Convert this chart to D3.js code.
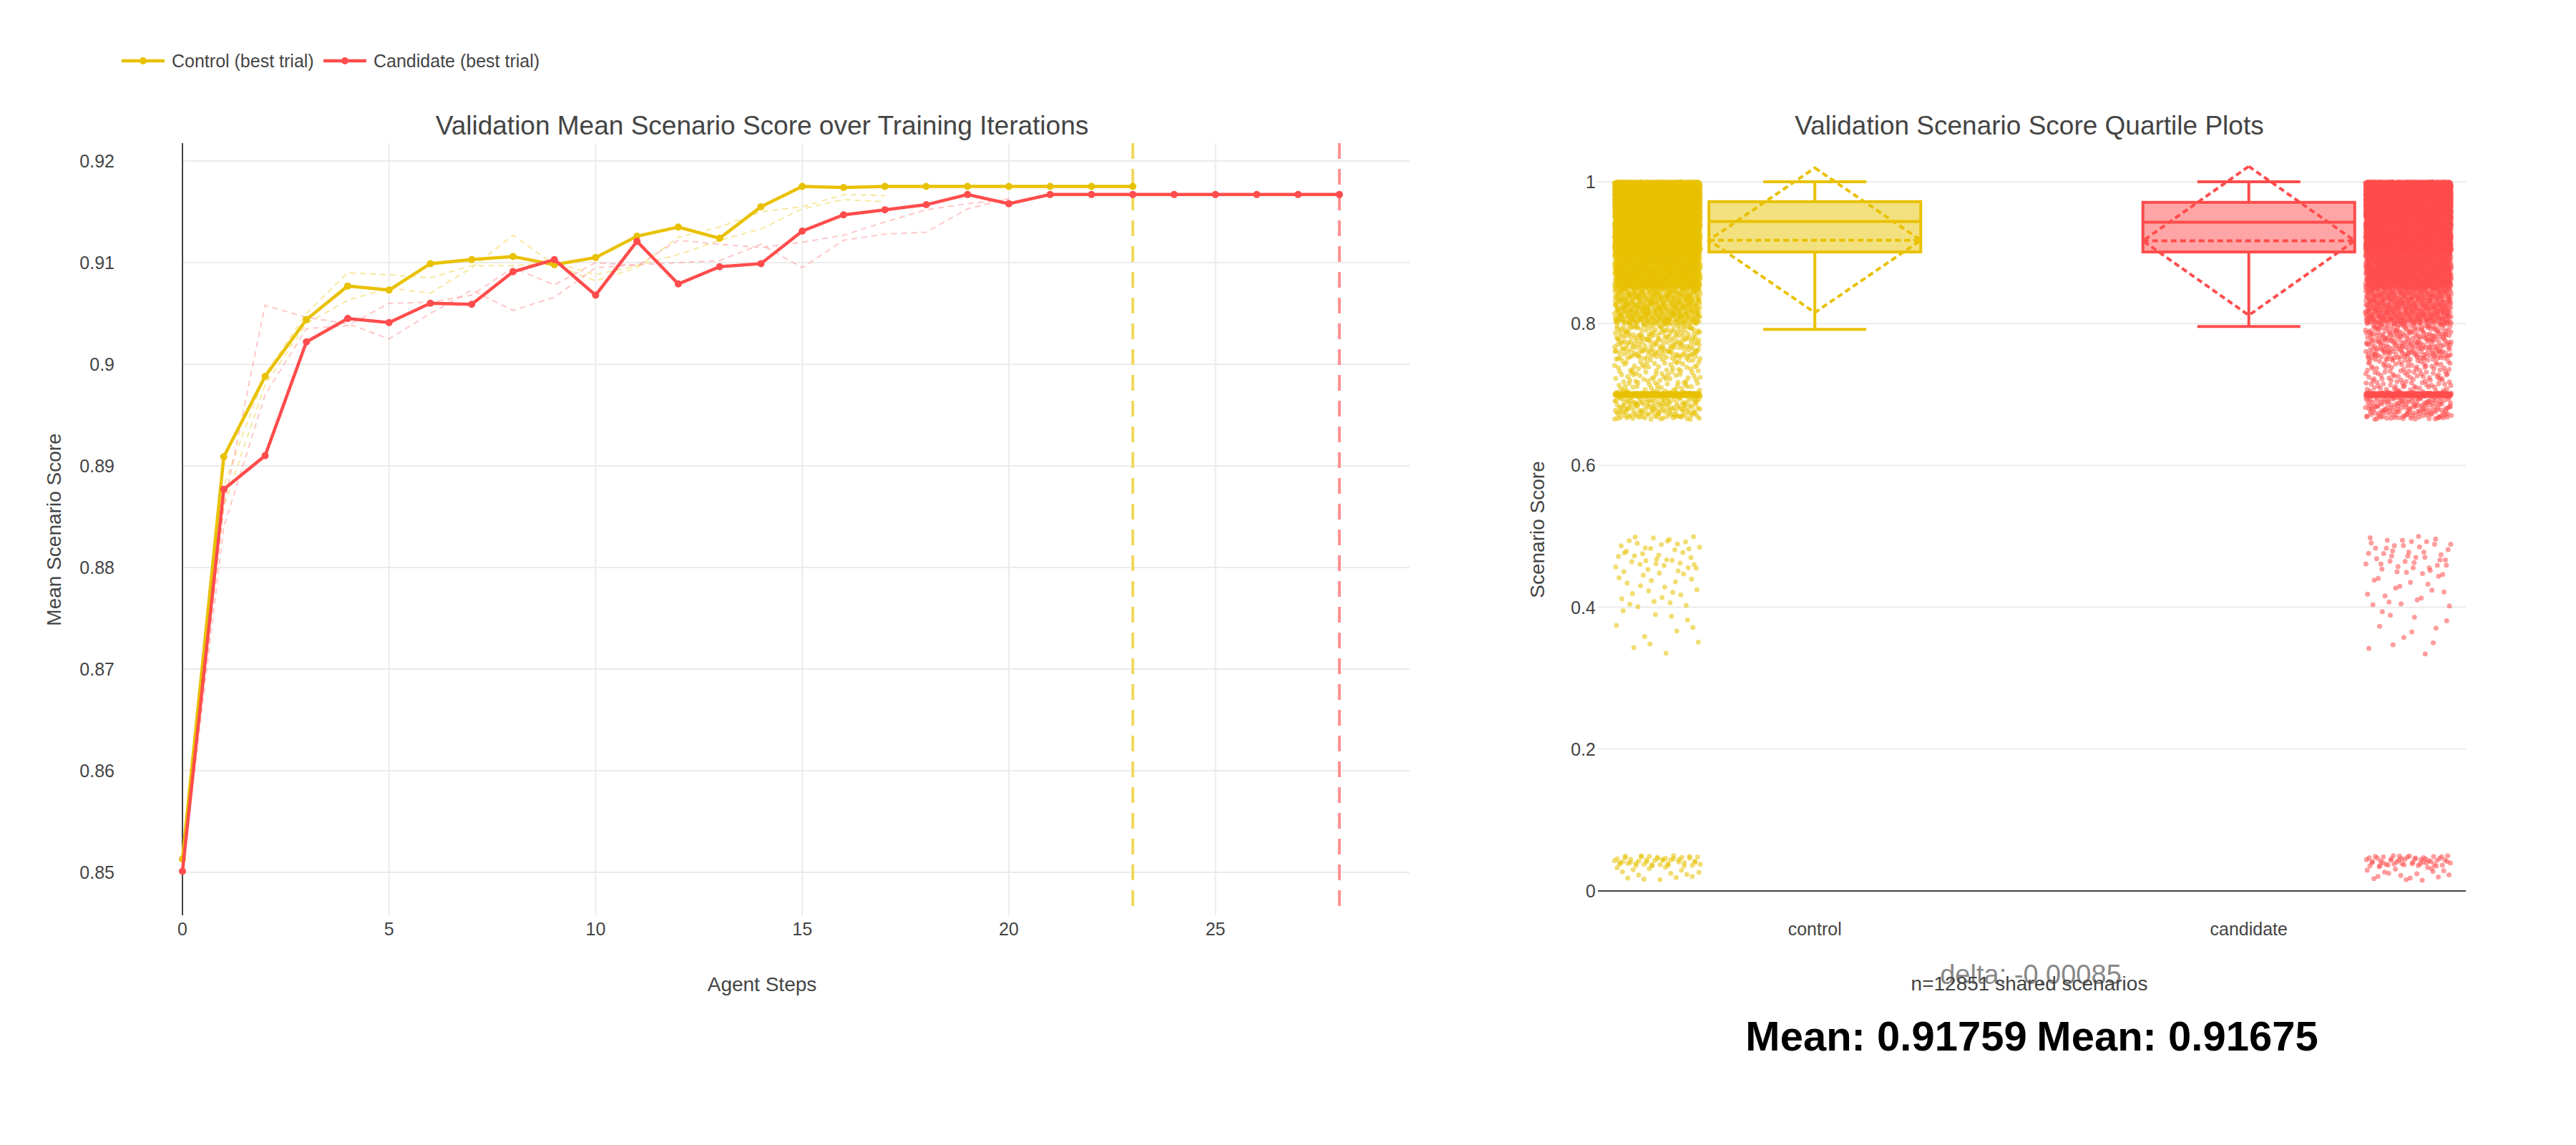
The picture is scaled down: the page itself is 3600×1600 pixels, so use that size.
<!DOCTYPE html>
<html><head><meta charset="utf-8">
<script src="https://cdn.jsdelivr.net/npm/d3@7"></script>
<style>body{margin:0;background:#fff}text{font-family:"Liberation Sans",Arial,sans-serif}</style>
</head><body><svg id="c" width="3600" height="1600"></svg>
<script>
// line chart data
const controlBest = [0.8513,0.8909,0.8988,0.9044,0.9077,0.9073,0.9099,0.9103,0.9106,0.9098,0.9105,0.9126,0.9135,0.9124,0.9155,0.9175,0.9174,0.9175,0.9175,0.9175,0.9175,0.9175,0.9175,0.9175];
const candidateBest = [0.8501,0.8877,0.8910,0.9022,0.9045,0.9041,0.9060,0.9059,0.9091,0.9103,0.9068,0.9121,0.9079,0.9096,0.9099,0.9131,0.9147,0.9152,0.9157,0.9167,0.9158,0.9167,0.9167,0.9167,0.9167,0.9167,0.9167,0.9167,0.9167];
const controlTrials = [
  [0.851,0.888,0.899,0.905,0.909,0.9088,0.9085,0.9097,0.9097,0.910,0.9088,0.9097,0.9108,0.9122,0.9133,0.9153,0.9162,0.916],
  [0.851,0.886,0.898,0.904,0.9063,0.9075,0.907,0.9095,0.9127,0.9098,0.9082,0.9095,0.9125,0.9135,0.915,0.9155,0.9167,0.9166]
];
const candidateTrials = [
  [0.850,0.886,0.9058,0.9046,0.9040,0.9025,0.905,0.9073,0.9053,0.9066,0.9095,0.9098,0.910,0.9102,0.9118,0.9095,0.9122,0.9128,0.9130,0.9153,0.9163],
  [0.850,0.884,0.897,0.9035,0.9038,0.906,0.9061,0.9068,0.9095,0.9078,0.910,0.9097,0.9122,0.9118,0.9115,0.912,0.9127,0.914,0.9152,0.9158,0.9162]
];
const stopSteps = [23, 28];
const yTicksLeft = [0.85,0.86,0.87,0.88,0.89,0.9,0.91,0.92];
const xTicksLeft = [0,5,10,15,20,25];

// box data
const groups = ["control","candidate"];
const boxStats = [
  {lo:0.792, q1:0.901, med:0.944, q3:0.972, hi:1.0, mean:0.91759, sd:0.102},
  {lo:0.796, q1:0.901, med:0.943, q3:0.971, hi:1.0, mean:0.91675, sd:0.105}
];
// score bins for the strip points (lo, hi, count control, count candidate)
const binLo = [0.95,0.90,0.85,0.80,0.75,0.70,0.698,0.665,0.33,0.40,0.45,0.015,0.035];
const binHi = [1.00,0.95,0.90,0.85,0.80,0.75,0.702,0.698,0.40,0.45,0.50,0.035,0.05];
const countsControl = [3000,2000,900,450,200,110,250,150,12,22,40,15,45];
const countsCandidate = [3000,2000,950,500,250,130,250,160,12,20,42,18,50];
const deltaText = "delta: -0.00085";
const nText = "n=12851 shared scenarios";

const colors = ["#e8c100","#ff4c4c"];
const lightColors = ["#f0d860","#ff9090"];
const svg = d3.select("#c");

// ---- left chart
const x = d3.scaleLinear().domain([0,29.7]).range([255,1970]);
const y = d3.scaleLinear().domain([0.85,0.92]).range([1219,225]);
const plotTop = 200, plotBottom = 1279;
const L = svg.append("g");
L.selectAll(".gy").data(yTicksLeft).enter().append("line")
  .attr("x1",255).attr("x2",1970).attr("y1",d=>y(d)).attr("y2",d=>y(d)).attr("stroke","#ebebeb").attr("stroke-width",2);
L.selectAll(".gx").data(xTicksLeft.slice(1)).enter().append("line")
  .attr("x1",d=>x(d)).attr("x2",d=>x(d)).attr("y1",plotTop).attr("y2",plotBottom).attr("stroke","#ebebeb").attr("stroke-width",2);
L.append("line").attr("x1",x(0)).attr("x2",x(0)).attr("y1",plotTop).attr("y2",plotBottom).attr("stroke","#444").attr("stroke-width",2);
L.selectAll(".ty").data(yTicksLeft).enter().append("text")
  .attr("x",160).attr("y",d=>y(d)+9).attr("text-anchor","end").attr("font-size",25).attr("fill","#444").text(d=>d);
L.selectAll(".tx").data(xTicksLeft).enter().append("text")
  .attr("x",d=>x(d)).attr("y",1307).attr("text-anchor","middle").attr("font-size",25).attr("fill","#444").text(d=>d);

const line = d3.line().x((d,i)=>x(i)).y(d=>y(d));
controlTrials.forEach(t=>L.append("path").attr("d",line(t)).attr("fill","none").attr("stroke",lightColors[0]).attr("stroke-opacity",0.6).attr("stroke-width",2).attr("stroke-dasharray","8,6"));
candidateTrials.forEach(t=>L.append("path").attr("d",line(t)).attr("fill","none").attr("stroke",lightColors[1]).attr("stroke-opacity",0.5).attr("stroke-width",2).attr("stroke-dasharray","8,6"));
stopSteps.forEach((s,i)=>L.append("line").attr("x1",x(s)).attr("x2",x(s)).attr("y1",plotTop).attr("y2",plotBottom)
  .attr("stroke",lightColors[i]).attr("stroke-width",4).attr("stroke-dasharray","22,14"));
[controlBest,candidateBest].forEach((s,k)=>{
  L.append("path").attr("d",line(s)).attr("fill","none").attr("stroke",colors[k]).attr("stroke-width",4.5);
  L.selectAll(null).data(s).enter().append("circle").attr("cx",(d,i)=>x(i)).attr("cy",d=>y(d)).attr("r",5).attr("fill",colors[k]);
});
L.append("text").attr("x",1065).attr("y",188).attr("text-anchor","middle").attr("font-size",37).attr("fill","#444").text("Validation Mean Scenario Score over Training Iterations");
L.append("text").attr("x",1065).attr("y",1385).attr("text-anchor","middle").attr("font-size",28).attr("fill","#444").text("Agent Steps");
L.append("text").attr("transform","translate(85,740) rotate(-90)").attr("text-anchor","middle").attr("font-size",28).attr("fill","#444").text("Mean Scenario Score");

// legend
const legendItems = ["Control (best trial)","Candidate (best trial)"];
const legendX = [170,452];
legendItems.forEach((t,i)=>{
  const g = svg.append("g").attr("transform",`translate(${legendX[i]},85)`);
  g.append("line").attr("x1",0).attr("x2",60).attr("stroke",colors[i]).attr("stroke-width",4.5);
  g.append("circle").attr("cx",30).attr("r",5).attr("fill",colors[i]);
  g.append("text").attr("x",70).attr("y",9).attr("font-size",25).attr("fill","#444").text(t);
});

// ---- right chart
const xr = d3.scaleBand().domain(groups).range([2233,3446]);
const yr = d3.scaleLinear().domain([0,1]).range([1245,254]);
const R = svg.append("g");
const yTicksRight = [0,0.2,0.4,0.6,0.8,1];
R.selectAll(".gy").data(yTicksRight.slice(1)).enter().append("line")
  .attr("x1",2233).attr("x2",3446).attr("y1",d=>yr(d)).attr("y2",d=>yr(d)).attr("stroke","#ebebeb").attr("stroke-width",2);
R.append("line").attr("x1",2233).attr("x2",3446).attr("y1",yr(0)).attr("y2",yr(0)).attr("stroke","#444").attr("stroke-width",2);
R.selectAll(".ty").data(yTicksRight).enter().append("text")
  .attr("x",2230).attr("y",d=>yr(d)+9).attr("text-anchor","end").attr("font-size",25).attr("fill","#444").text(d=>d);
R.selectAll(".tx").data(groups).enter().append("text")
  .attr("x",d=>xr(d)+xr.bandwidth()/2).attr("y",1307).attr("text-anchor","middle").attr("font-size",25).attr("fill","#444").text(d=>d);

const stripOffset = [-220, 223];
const halton = (i,b)=>{let f=1,r=0;while(i>0){f/=b;r+=f*(i%b);i=Math.floor(i/b);}return r;};
[countsControl,countsCandidate].forEach((counts,k)=>{
  const cx = xr(groups[k])+xr.bandwidth()/2+stripOffset[k];
  const pts = [];
  let n = 1;
  counts.forEach((c,b)=>{
    for(let j=0;j<c;j++,n++) pts.push([cx+(halton(n,2)-0.5)*120, binLo[b]+(binHi[b]-binLo[b])*halton(n,3)]);
  });
  R.append("g").selectAll("circle").data(pts).enter().append("circle")
    .attr("cx",d=>d[0]).attr("cy",d=>yr(d[1])).attr("r",3.5).attr("fill",colors[k]).attr("fill-opacity",0.55);
});

boxStats.forEach((s,k)=>{
  const cx = xr(groups[k])+xr.bandwidth()/2, hw = 148, ww = 72;
  const g = R.append("g").attr("stroke",colors[k]).attr("stroke-width",4);
  g.append("line").attr("x1",cx).attr("x2",cx).attr("y1",yr(s.hi)).attr("y2",yr(s.q3));
  g.append("line").attr("x1",cx).attr("x2",cx).attr("y1",yr(s.q1)).attr("y2",yr(s.lo));
  g.append("line").attr("x1",cx-ww).attr("x2",cx+ww).attr("y1",yr(s.hi)).attr("y2",yr(s.hi));
  g.append("line").attr("x1",cx-ww).attr("x2",cx+ww).attr("y1",yr(s.lo)).attr("y2",yr(s.lo));
  g.append("rect").attr("x",cx-hw).attr("width",2*hw).attr("y",yr(s.q3)).attr("height",yr(s.q1)-yr(s.q3))
    .attr("fill",colors[k]).attr("fill-opacity",0.5);
  g.append("line").attr("x1",cx-hw).attr("x2",cx+hw).attr("y1",yr(s.med)).attr("y2",yr(s.med));
  g.append("line").attr("x1",cx-hw).attr("x2",cx+hw).attr("y1",yr(s.mean)).attr("y2",yr(s.mean)).attr("stroke-dasharray","8,5");
  g.append("path").attr("fill","none").attr("stroke-dasharray","8,5")
    .attr("d",`M${cx},${yr(s.mean+s.sd)}L${cx+hw},${yr(s.mean)}L${cx},${yr(s.mean-s.sd)}L${cx-hw},${yr(s.mean)}Z`);
});

R.append("text").attr("x",2836).attr("y",188).attr("text-anchor","middle").attr("font-size",37).attr("fill","#444").text("Validation Scenario Score Quartile Plots");
R.append("text").attr("transform","translate(2158,740) rotate(-90)").attr("text-anchor","middle").attr("font-size",28).attr("fill","#444").text("Scenario Score");
R.append("text").attr("x",2838).attr("y",1375).attr("text-anchor","middle").attr("font-size",38).attr("fill","#888").text(deltaText);
R.append("text").attr("x",2836).attr("y",1384).attr("text-anchor","middle").attr("font-size",28).attr("fill","#444").text(nText);
boxStats.forEach((s,k)=>R.append("text").attr("x",[2636,3043][k]).attr("y",1468).attr("text-anchor","middle")
  .attr("font-size",58).attr("font-weight","bold").attr("fill","#000").text("Mean: "+s.mean.toFixed(5)));
</script></body></html>
